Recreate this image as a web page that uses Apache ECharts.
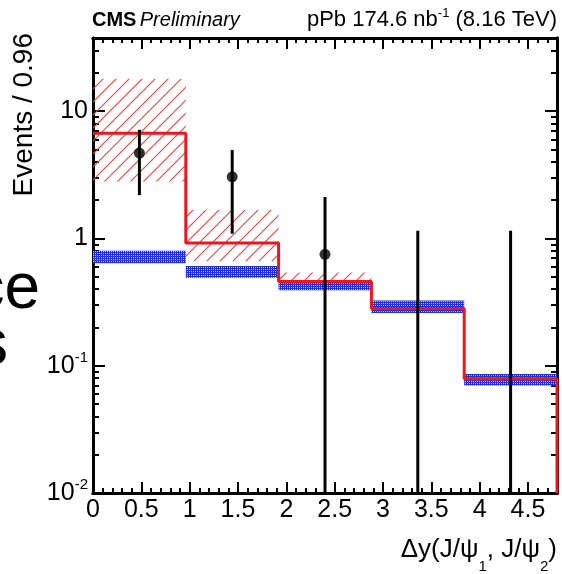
<!DOCTYPE html>
<html>
<head>
<meta charset="utf-8">
<script src="https://cdn.jsdelivr.net/npm/echarts@6/dist/echarts.min.js"></script>
<style>
  html, body { margin: 0; padding: 0; background: #ffffff; }
  #chart { width: 562px; height: 574px; }
</style>
</head>
<body>
<div id="chart"></div>
<script>
// Bin edges of the Δy distribution (bin width 0.96)
const binEdges = [0, 0.96, 1.92, 2.88, 3.84, 4.8];

// Total fit (red histogram) and its uncertainty band (red hatch)
const fitValues   = [6.7, 0.92, 0.46, 0.282, 0.079];
const fitBandLow  = [2.8, 0.665, 0.40, 0.27, 0.075];
const fitBandHigh = [18.0, 1.67, 0.54, 0.30, 0.084];

// Second component band (blue)
const bkgBandLow  = [0.64, 0.491, 0.391, 0.26, 0.0698];
const bkgBandHigh = [0.80, 0.607, 0.449, 0.326, 0.086];

// Data points with asymmetric errors (0 = no entry / error reaches the floor)
const dataX       = [0.48, 1.44, 2.40, 3.36, 4.32];
const dataY       = [4.69, 3.05, 0.75, 0, 0];
const dataErrLow  = [2.19, 1.09, 0, 0, 0];
const dataErrHigh = [7.15, 4.95, 2.12, 1.15, 1.15];

// Axis ranges and tick positions
const xRange = [0, 4.8];
const yRange = [0.01, 37.6];
const xMajorTicks = [0, 0.5, 1, 1.5, 2, 2.5, 3, 3.5, 4, 4.5];
const xMinorTicks = [0.1, 0.2, 0.3, 0.4, 0.6, 0.7, 0.8, 0.9, 1.1, 1.2, 1.3, 1.4,
  1.6, 1.7, 1.8, 1.9, 2.1, 2.2, 2.3, 2.4, 2.6, 2.7, 2.8, 2.9, 3.1, 3.2, 3.3, 3.4,
  3.6, 3.7, 3.8, 3.9, 4.1, 4.2, 4.3, 4.4, 4.6, 4.7];
const yMajorTicks = [0.01, 0.1, 1, 10];
const yMinorTicks = [0.02, 0.03, 0.04, 0.05, 0.06, 0.07, 0.08, 0.09,
  0.2, 0.3, 0.4, 0.5, 0.6, 0.7, 0.8, 0.9,
  2, 3, 4, 5, 6, 7, 8, 9, 20, 30];

const FONT = '"Liberation Sans", Arial, Helvetica, sans-serif';
const RED = '#f0141e';
const BLUE = '#1f30e0';

// Fill patterns: red "///" hatch and fine blue dot mesh
function makeHatch() {
  const s = 13;
  const c = document.createElement('canvas');
  c.width = s; c.height = s;
  const g = c.getContext('2d');
  g.strokeStyle = '#f04040';
  g.lineWidth = 1.1;
  g.beginPath();
  g.moveTo(-1, s + 1); g.lineTo(s + 1, -1);
  g.moveTo(-1, 1); g.lineTo(1, -1);
  g.moveTo(s - 1, s + 1); g.lineTo(s + 1, s - 1);
  g.stroke();
  return c;
}
function makeMesh() {
  const c = document.createElement('canvas');
  c.width = 2; c.height = 2;
  const g = c.getContext('2d');
  g.fillStyle = BLUE;
  g.fillRect(0, 0, 2, 2);
  g.fillStyle = '#b8c0ff';
  g.fillRect(1, 1, 1, 1);
  return c;
}
const hatchFill = { image: makeHatch(), repeat: 'repeat' };
const meshFill = { image: makeMesh(), repeat: 'repeat' };

function bandRows(low, high) {
  return low.map((lo, i) => [binEdges[i], binEdges[i + 1], lo, high[i]]);
}
function bandRenderer(fill) {
  return function (params, api) {
    const p0 = api.coord([api.value(0), api.value(3)]);
    const p1 = api.coord([api.value(1), api.value(2)]);
    return {
      type: 'rect',
      shape: { x: p0[0], y: p0[1], width: p1[0] - p0[0], height: p1[1] - p0[1] },
      style: { fill: fill, stroke: null }
    };
  };
}

// Step outline of the fit, dropping to the floor at the last edge
const fitStep = fitValues.map((v, i) => [binEdges[i], v]);
fitStep.push([binEdges[binEdges.length - 1], yRange[0]]);

const errRows = dataX.map((x, i) => [x, Math.max(dataErrLow[i], yRange[0]), dataErrHigh[i]]);
const pointRows = dataX.map((x, i) => [x, dataY[i]]).filter(p => p[1] > 0);

const frameLine = { show: true, onZero: false, lineStyle: { color: '#000', width: 3 } };
const tickStyle = { color: '#000', width: 2 };

function xAxisDef(position, ticks, len, withLabels) {
  return {
    type: 'value', position: position, min: xRange[0], max: xRange[1],
    splitLine: { show: false },
    axisLine: frameLine,
    axisTick: { show: true, inside: true, length: len, customValues: ticks, lineStyle: tickStyle },
    axisLabel: withLabels ? {
      show: true, customValues: xMajorTicks, margin: 5,
      fontFamily: FONT, fontSize: 25, color: '#000',
      formatter: v => String(v)
    } : { show: false }
  };
}
function yLabel(v) {
  const e = Math.round(Math.log10(v));
  if (e === 0) return '1';
  if (e === 1) return '10';
  return '10{sup|' + e + '}';
}
function yAxisDef(position, ticks, len, withLabels) {
  return {
    type: 'log', logBase: 10, position: position, min: yRange[0], max: yRange[1],
    splitLine: { show: false },
    minorTick: { show: false },
    axisLine: frameLine,
    axisTick: { show: true, inside: true, length: len, customValues: ticks, lineStyle: tickStyle },
    axisLabel: withLabels ? {
      show: true, customValues: yMajorTicks, margin: 5,
      fontFamily: FONT, fontSize: 25, color: '#000',
      formatter: yLabel,
      rich: { sup: { fontFamily: FONT, fontSize: 15, color: '#000', lineHeight: 15, padding: [0, 0, 16, 0] } }
    } : { show: false }
  };
}

const chart = echarts.init(document.getElementById('chart'), null, { renderer: 'canvas' });
chart.setOption({
  animation: false,
  backgroundColor: '#ffffff',
  grid: { left: 93, right: 5, top: 38, bottom: 81, containLabel: false },
  xAxis: [
    xAxisDef('bottom', xMajorTicks, 11, true),
    xAxisDef('bottom', xMinorTicks, 5, false),
    xAxisDef('top', xMajorTicks, 11, false),
    xAxisDef('top', xMinorTicks, 5, false)
  ],
  yAxis: [
    yAxisDef('left', yMajorTicks, 12, true),
    yAxisDef('left', yMinorTicks, 6, false),
    yAxisDef('right', yMajorTicks, 12, false),
    yAxisDef('right', yMinorTicks, 6, false)
  ],
  series: [
    {
      name: 'fit uncertainty', type: 'custom', xAxisIndex: 0, yAxisIndex: 0,
      renderItem: bandRenderer(hatchFill), data: bandRows(fitBandLow, fitBandHigh), z: 1
    },
    {
      name: 'component band', type: 'custom', xAxisIndex: 0, yAxisIndex: 0,
      renderItem: bandRenderer(meshFill), data: bandRows(bkgBandLow, bkgBandHigh), z: 2
    },
    {
      name: 'fit', type: 'line', xAxisIndex: 0, yAxisIndex: 0, step: 'end',
      data: fitStep, showSymbol: false, symbol: 'none', z: 3,
      lineStyle: { color: RED, width: 3 }
    },
    {
      name: 'data errors', type: 'custom', xAxisIndex: 0, yAxisIndex: 0, z: 4,
      data: errRows,
      renderItem: function (params, api) {
        const a = api.coord([api.value(0), api.value(1)]);
        const b = api.coord([api.value(0), api.value(2)]);
        return { type: 'line', shape: { x1: a[0], y1: a[1], x2: b[0], y2: b[1] },
          style: { stroke: '#000', lineWidth: 3 } };
      }
    },
    {
      name: 'data', type: 'scatter', xAxisIndex: 0, yAxisIndex: 0, z: 5,
      data: pointRows, symbol: 'circle', symbolSize: 11,
      itemStyle: { color: '#000' }
    }
  ],
  graphic: [
    {
      type: 'text', x: 92, y: 20, z: 10,
      style: {
        text: '{b|CMS} {i|Preliminary}', verticalAlign: 'middle', align: 'left',
        rich: {
          b: { fontFamily: FONT, fontSize: 20, fontWeight: 'bold', fill: '#000' },
          i: { fontFamily: FONT, fontSize: 20, fontStyle: 'italic', fill: '#000' }
        }
      }
    },
    {
      type: 'text', x: 557, y: 20, z: 10,
      style: {
        text: '{n|pPb 174.6 nb}{s|-1}{n| (8.16 TeV)}', verticalAlign: 'middle', align: 'right',
        rich: {
          n: { fontFamily: FONT, fontSize: 22, fill: '#000' },
          s: { fontFamily: FONT, fontSize: 13, fill: '#000', lineHeight: 13, padding: [0, 0, 14, 0] }
        }
      }
    },
    {
      type: 'text', x: 24, y: 33, rotation: Math.PI / 2, z: 10,
      style: { text: 'Events / 0.96', fontFamily: FONT, fontSize: 28, fill: '#000',
        align: 'right', verticalAlign: 'middle' }
    },
    {
      type: 'text', x: 557, y: 550, z: 10,
      style: {
        text: '{n|Δy(J/ψ}{d|1}{n|, J/ψ}{d|2}{n|)}', align: 'right', verticalAlign: 'middle',
        rich: {
          n: { fontFamily: FONT, fontSize: 26, fill: '#000' },
          d: { fontFamily: FONT, fontSize: 15, fill: '#000', lineHeight: 15, padding: [34, 0, 0, 0] }
        }
      }
    },
    {
      type: 'text', x: 40, y: 290, z: 0,
      style: { text: 'ce', fontFamily: FONT, fontSize: 64, fill: '#000', align: 'right', verticalAlign: 'middle' }
    },
    {
      type: 'text', x: 8, y: 346, z: 0,
      style: { text: 's', fontFamily: FONT, fontSize: 64, fill: '#000', align: 'right', verticalAlign: 'middle' }
    }
  ]
});
</script>
</body>
</html>
